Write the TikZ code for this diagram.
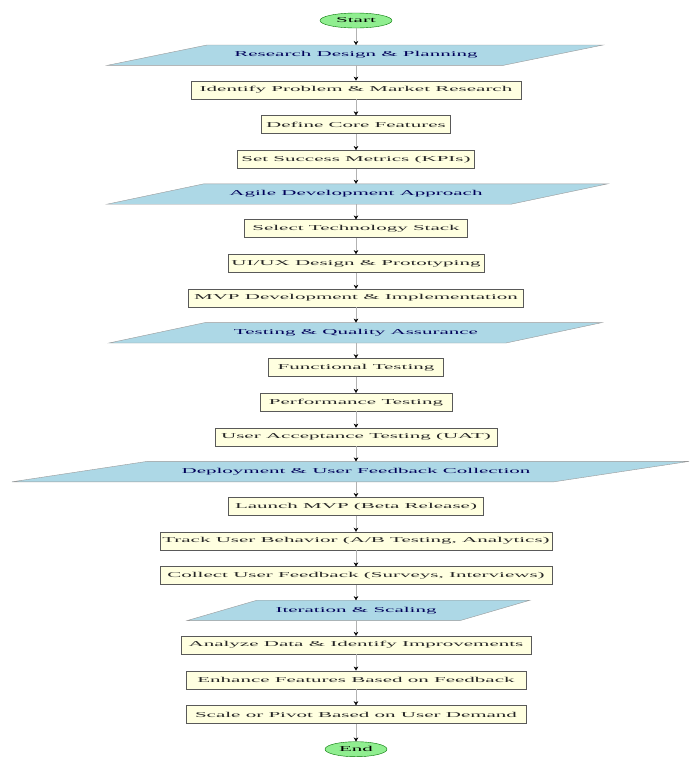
\documentclass[tikz,border=0pt]{standalone}
\usepackage{fontspec}
\setmainfont{Liberation Serif}
\usepackage{graphicx}
\usetikzlibrary{shapes.geometric,arrows.meta,backgrounds}

\definecolor{boxfill}{HTML}{FFFFE0}
\definecolor{phasefill}{HTML}{ADD8E6}
\definecolor{termfill}{HTML}{90EE90}

% stretched text, as in the reference
\newcommand{\wtxt}[1]{\scalebox{2.8}[1]{#1}}

\begin{document}
\begin{tikzpicture}[x=1pt,y=-1pt,
    task/.style={draw=gray!70!black, fill=boxfill, line width=0.5pt, minimum height=18pt,
                 inner xsep=2pt, inner ysep=0pt, text=black!85, font=\fontsize{7.5}{8}\selectfont},
    phase/.style={minimum height=20pt, inner sep=0pt, text=blue!35!black, font=\fontsize{7.5}{8}\selectfont},
    phasebox/.style={draw=gray!80, fill=phasefill, line width=0.4pt},
    term/.style={ellipse, draw=green!45!black, fill=termfill, minimum height=15pt, inner sep=0pt,
                 font=\fontsize{7.5}{8}\selectfont},
    flow/.style={draw=gray!60, line width=0.3pt, -{Stealth[length=4pt,width=4.5pt,color=black]}}]

    \useasboundingbox (0,0) rectangle (689,758);

    % Начало
    \node[term, minimum width=72pt] (s0) at (356,20.5) {\wtxt{Start}};

    % Research Design & Planning
    \node[phase] (p1) at (356,55.2) {\wtxt{Research Design \& Planning}};
    \node[task, minimum width=330pt] (t1) at (356,89.9)  {\wtxt{Identify Problem \& Market Research}};
    \node[task, minimum width=189pt] (t2) at (356,124.6) {\wtxt{Define Core Features}};
    \node[task, minimum width=237pt] (t3) at (356,159.3) {\wtxt{Set Success Metrics (KPIs)}};

    % Agile Development Approach
    \node[phase] (p2) at (356,194.0) {\wtxt{Agile Development Approach}};
    \node[task, minimum width=223pt] (t4) at (356,228.7) {\wtxt{Select Technology Stack}};
    \node[task, minimum width=256pt] (t5) at (356,263.4) {\wtxt{UI/UX Design \& Prototyping}};
    \node[task, minimum width=335pt] (t6) at (356,298.1) {\wtxt{MVP Development \& Implementation}};

    % Testing & Quality Assurance
    \node[phase] (p3) at (356,332.8) {\wtxt{Testing \& Quality Assurance}};
    \node[task, minimum width=175pt] (t7) at (356,367.5) {\wtxt{Functional Testing}};
    \node[task, minimum width=192pt] (t8) at (356,402.2) {\wtxt{Performance Testing}};
    \node[task, minimum width=282pt] (t9) at (356,436.9) {\wtxt{User Acceptance Testing (UAT)}};

    % Deployment & User Feedback Collection
    \node[phase] (p4) at (356,471.6) {\wtxt{Deployment \& User Feedback Collection}};
    \node[task, minimum width=255pt] (t10) at (356,506.3) {\wtxt{Launch MVP (Beta Release)}};
    \node[task, minimum width=392pt] (t11) at (356,541.0) {\wtxt{Track User Behavior (A/B Testing, Analytics)}};
    \node[task, minimum width=392pt] (t12) at (356,575.7) {\wtxt{Collect User Feedback (Surveys, Interviews)}};

    % Iteration & Scaling
    \node[phase] (p5) at (356,610.4) {\wtxt{Iteration \& Scaling}};
    \node[task, minimum width=350pt] (t13) at (356,645.1) {\wtxt{Analyze Data \& Identify Improvements}};
    \node[task, minimum width=340pt] (t14) at (356,679.8) {\wtxt{Enhance Features Based on Feedback}};
    \node[task, minimum width=340pt] (t15) at (356,714.5) {\wtxt{Scale or Pivot Based on User Demand}};

    % Конец
    \node[term, minimum width=62pt] (e0) at (356,749.2) {\wtxt{End}};

    % Параллелограммы
    \begin{scope}[on background layer]
        \foreach \p/\bl/\tr/\o in {p1/-249/247/100, p2/-249/252/97, p3/-247/246/96,
                                    p4/-344/333/135, p5/-169/174/70}
            \draw[phasebox] ([xshift=\bl]\p.south) -- ([xshift={\bl+\o}]\p.north)
                -- ([xshift=\tr]\p.north) -- ([xshift={\tr-\o}]\p.south) -- cycle;
    \end{scope}

    % Стрелки
    \foreach \a/\b in {s0/p1, p1/t1, t1/t2, t2/t3, t3/p2, p2/t4, t4/t5, t5/t6, t6/p3,
                       p3/t7, t7/t8, t8/t9, t9/p4, p4/t10, t10/t11, t11/t12, t12/p5,
                       p5/t13, t13/t14, t14/t15, t15/e0}
        \draw[flow] (\a) -- (\b);
\end{tikzpicture}
\end{document}
